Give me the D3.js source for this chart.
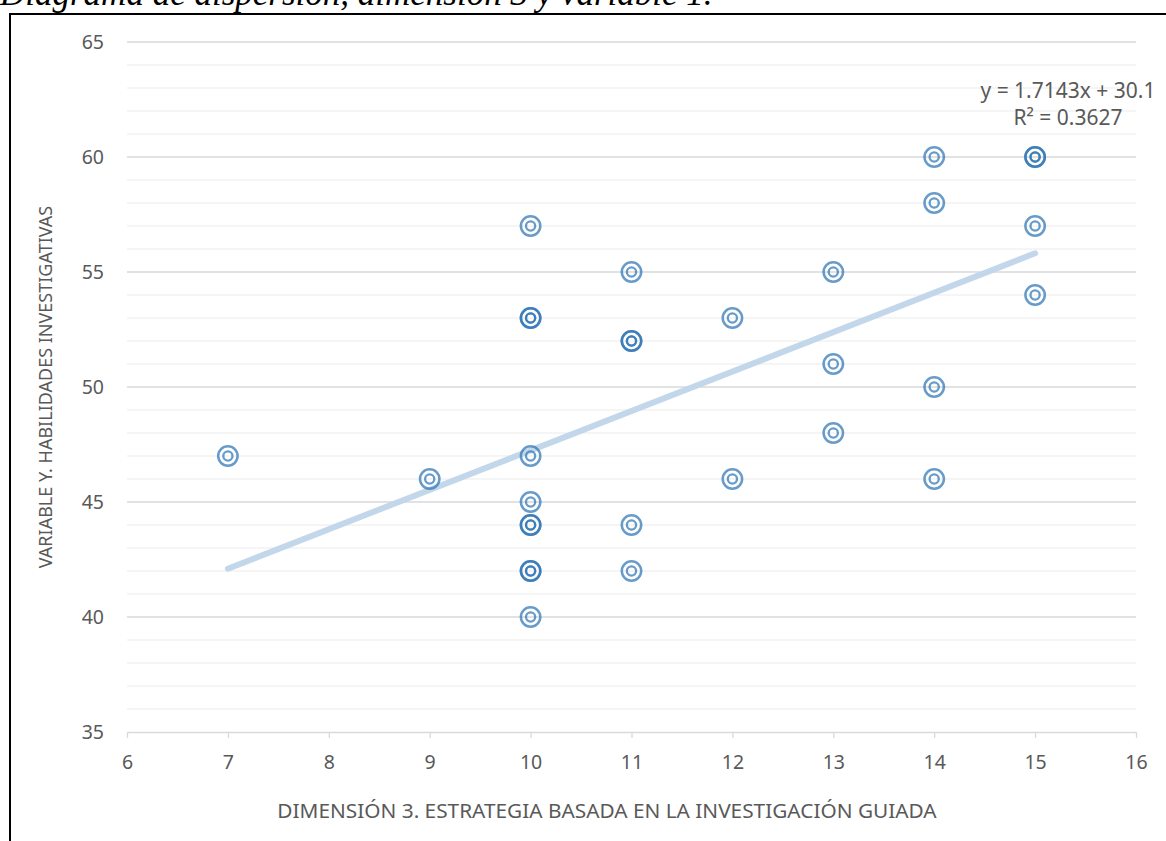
<!DOCTYPE html>
<html><head><meta charset="utf-8">
<script src="https://cdn.jsdelivr.net/npm/d3@7"></script>
<style>body{margin:0;background:#fff}svg{display:block}</style>
</head><body>
<svg id="c" width="1166" height="841"></svg>
<script>
const xValues = [7, 9, 10,10,10,10,10,10,10,10,10,10, 11,11,11,11,11, 12,12, 13,13,13, 14,14,14,14, 15,15,15,15];
const yValues = [47, 46, 57,53,53,47,45,44,44,42,42,40, 55,52,52,44,42, 53,46, 55,51,48, 60,58,50,46, 60,60,57,54];
const xTicks = [6,7,8,9,10,11,12,13,14,15,16];
const yTicks = [35,40,45,50,55,60,65];
const trendSlope = 1.7143, trendIntercept = 30.1;
const trendRange = [7, 15];
const equationText = "y = 1.7143x + 30.1";
const r2Text = "R² = 0.3627";
const titleText = "Diagrama de dispersión, dimensión 3 y variable 1.";
const xTitle = "DIMENSIÓN 3. ESTRATEGIA BASADA EN LA INVESTIGACIÓN GUIADA";
const yTitle = "VARIABLE Y. HABILIDADES INVESTIGATIVAS";

const svg = d3.select("#c");
const font = "'Noto Sans', 'Open Sans', sans-serif";
const L = 127, R = 1136, T = 42, B = 732;
const x = d3.scaleLinear().domain([6,16]).range([L,R]);
const y = d3.scaleLinear().domain([35,65]).range([B,T]);

// title (clipped at top)
svg.append("text").attr("x",0).attr("y",5).text(titleText)
  .attr("font-family","'Liberation Serif','Times New Roman',serif").attr("font-style","italic")
  .attr("font-size",35).attr("fill","#000");
// border
svg.append("path").attr("d","M10,1000 V14 H1200").attr("fill","none").attr("stroke","#000").attr("stroke-width",2);

// minor gridlines
svg.append("g").selectAll("line").data(d3.range(35,66,1).filter(v=>v%5!==0)).join("line")
  .attr("x1",L).attr("x2",R).attr("y1",d=>y(d)).attr("y2",d=>y(d))
  .attr("stroke","#f2f2f2").attr("stroke-width",1.3);
// major gridlines
svg.append("g").selectAll("line").data(yTicks.filter(v=>v!==35)).join("line")
  .attr("x1",L).attr("x2",R).attr("y1",d=>y(d)).attr("y2",d=>y(d))
  .attr("stroke","#d9d9d9").attr("stroke-width",1.3);

// x axis
const xa = svg.append("g").attr("transform",`translate(0,${B})`)
  .call(d3.axisBottom(x).tickValues(xTicks).tickSize(6).tickPadding(17).tickSizeOuter(0));
xa.select(".domain").attr("stroke","#d9d9d9").attr("stroke-width",1.3);
xa.selectAll(".tick line").attr("stroke","#d9d9d9").attr("stroke-width",1.3);
xa.selectAll("text").attr("font-family",font).attr("font-size",19.5).attr("fill","#595959");

// y axis labels
const ya = svg.append("g").attr("transform",`translate(${L},0)`)
  .call(d3.axisLeft(y).tickValues(yTicks).tickSize(0).tickPadding(23));
ya.select(".domain").remove();
ya.selectAll("text").attr("font-family",font).attr("font-size",19.5).attr("fill","#595959");

// axis titles
svg.append("text").attr("x",607).attr("y",818).attr("text-anchor","middle")
  .attr("font-family",font).attr("font-size",20.8).attr("fill","#595959").text(xTitle);
svg.append("text").attr("transform",`translate(52,${(T+B)/2}) rotate(-90)`).attr("text-anchor","middle")
  .attr("font-family",font).attr("font-size",18).attr("fill","#595959").text(yTitle);

// trendline
svg.append("line")
  .attr("x1",x(trendRange[0])).attr("y1",y(trendSlope*trendRange[0]+trendIntercept))
  .attr("x2",x(trendRange[1])).attr("y2",y(trendSlope*trendRange[1]+trendIntercept))
  .attr("stroke","#c3d7eb").attr("stroke-width",6).attr("stroke-linecap","round");

// points
const pts = xValues.map((v,i)=>({x:v,y:yValues[i]}));
const g = svg.append("g");
pts.forEach(p=>{
  const m = g.append("g").attr("opacity",0.72);
  m.append("circle").attr("cx",x(p.x)).attr("cy",y(p.y)).attr("r",9.7)
    .attr("fill","none").attr("stroke","#2e75b6").attr("stroke-width",2.5);
  m.append("circle").attr("cx",x(p.x)).attr("cy",y(p.y)).attr("r",4.6)
    .attr("fill","none").attr("stroke","#2e75b6").attr("stroke-width",2.3);
});

// equation
svg.append("text").attr("x",1068).attr("y",98).attr("text-anchor","middle")
  .attr("font-family",font).attr("font-size",21).attr("fill","#595959").text(equationText);
svg.append("text").attr("x",1068).attr("y",125).attr("text-anchor","middle")
  .attr("font-family",font).attr("font-size",21).attr("fill","#595959").text(r2Text);
</script>
</body></html>
